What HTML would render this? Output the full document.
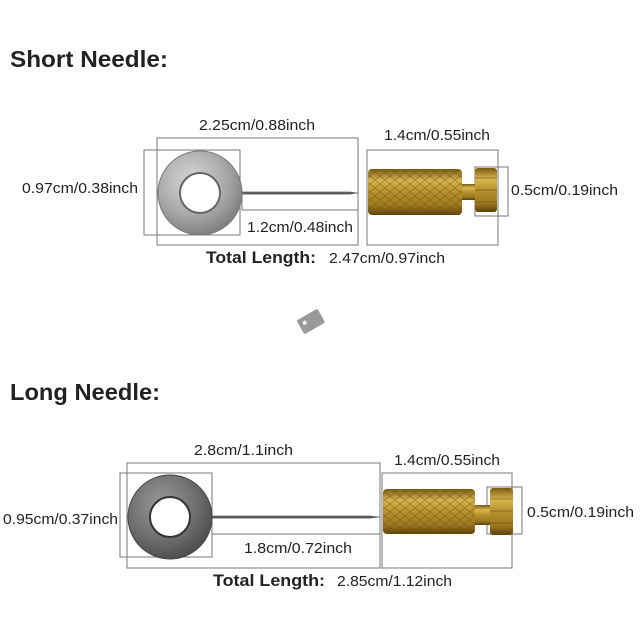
<!DOCTYPE html>
<html><head><meta charset="utf-8"><style>
html,body{margin:0;padding:0;background:#fff;}
svg{display:block;}
text{font-family:"Liberation Sans",sans-serif;fill:#222;}
</style></head><body>
<svg width="640" height="640" viewBox="0 0 640 640" xmlns="http://www.w3.org/2000/svg">
<defs>
<radialGradient id="silver" cx="40%" cy="35%" r="70%"><stop offset="0" stop-color="#d8d8d8"/><stop offset="0.6" stop-color="#a8a8a8"/><stop offset="1" stop-color="#7a7a7a"/></radialGradient>
<radialGradient id="dark" cx="40%" cy="35%" r="70%"><stop offset="0" stop-color="#9a9a9a"/><stop offset="0.6" stop-color="#6e6e6e"/><stop offset="1" stop-color="#4a4a4a"/></radialGradient>
<linearGradient id="brass" x1="0" y1="0" x2="0" y2="1"><stop offset="0" stop-color="#7a5a10"/><stop offset="0.25" stop-color="#d8b850"/><stop offset="0.5" stop-color="#b8922e"/><stop offset="0.8" stop-color="#9c7820"/><stop offset="1" stop-color="#5e4208"/></linearGradient>
<pattern id="knurl" width="10" height="8" patternUnits="userSpaceOnUse"><path d="M0 0L10 8M10 0L0 8" stroke="#6b4e0c" stroke-width="0.8" opacity="0.55"/></pattern>
<linearGradient id="needle" x1="0" y1="0" x2="0" y2="1"><stop offset="0" stop-color="#999"/><stop offset="0.5" stop-color="#444"/><stop offset="1" stop-color="#777"/></linearGradient>
</defs>
<g fill="none" stroke="#777" stroke-width="1">
<rect x="157" y="138" width="201" height="107"/>
<rect x="367" y="150" width="131" height="95"/>
<rect x="144" y="150" width="96" height="85"/>
<rect x="242" y="193" width="116" height="17"/>
<rect x="475" y="167" width="33" height="49"/>
<rect x="127" y="463" width="253" height="105"/>
<rect x="382" y="473" width="130" height="95"/>
<rect x="120" y="473" width="92" height="84"/>
<rect x="212" y="517" width="168" height="17"/>
<rect x="487" y="487" width="35" height="47"/>
</g>
<polygon points="240,191.5 350,191.5 358,193 350,194.5 240,194.5" fill="url(#needle)"/>
<circle cx="200" cy="193" r="42" fill="url(#silver)" stroke="#777" stroke-width="1"/>
<circle cx="200" cy="193" r="20" fill="#fff" stroke="#666" stroke-width="2"/>
<rect x="462" y="184" width="14" height="16" fill="url(#brass)"/>
<rect x="368" y="169" width="94" height="46" rx="4" fill="url(#brass)"/>
<rect x="368" y="169" width="94" height="46" rx="4" fill="url(#knurl)"/>
<rect x="475" y="168" width="22" height="44" rx="3" fill="url(#brass)"/>
<g stroke="#6b4e0c" stroke-width="1" opacity="0.6"><line x1="475" y1="178" x2="497" y2="178"/><line x1="475" y1="190" x2="497" y2="190"/><line x1="475" y1="202" x2="497" y2="202"/></g>
<polygon points="210,515.5 370,515.5 380,517 370,518.5 210,518.5" fill="url(#needle)"/>
<circle cx="170" cy="517" r="42" fill="url(#dark)" stroke="#444" stroke-width="1"/>
<circle cx="170" cy="517" r="20" fill="#fff" stroke="#333" stroke-width="2"/>
<rect x="475" y="505" width="15" height="20" fill="url(#brass)"/>
<rect x="383" y="489" width="92" height="45" rx="4" fill="url(#brass)"/>
<rect x="383" y="489" width="92" height="45" rx="4" fill="url(#knurl)"/>
<rect x="490" y="488" width="23" height="47" rx="3" fill="url(#brass)"/>
<g stroke="#6b4e0c" stroke-width="1" opacity="0.6"><line x1="490" y1="499" x2="513" y2="499"/><line x1="490" y1="511" x2="513" y2="511"/><line x1="490" y1="523" x2="513" y2="523"/></g>
<g transform="translate(310,322) rotate(-30)"><rect x="-11" y="-8" width="24" height="16" rx="2" fill="#999"/><circle cx="-5" cy="-2" r="2" fill="#fff"/></g>
<text x="10" y="67" font-size="23" font-weight="bold" textLength="158" lengthAdjust="spacingAndGlyphs">Short Needle:</text>
<text x="199" y="130" font-size="15" textLength="116" lengthAdjust="spacingAndGlyphs">2.25cm/0.88inch</text>
<text x="384" y="140" font-size="15" textLength="106" lengthAdjust="spacingAndGlyphs">1.4cm/0.55inch</text>
<text x="22" y="193" font-size="15" textLength="116" lengthAdjust="spacingAndGlyphs">0.97cm/0.38inch</text>
<text x="511" y="195" font-size="15" textLength="107" lengthAdjust="spacingAndGlyphs">0.5cm/0.19inch</text>
<text x="247" y="232" font-size="15" textLength="106" lengthAdjust="spacingAndGlyphs">1.2cm/0.48inch</text>
<text x="206" y="263" font-size="17" font-weight="bold" textLength="110" lengthAdjust="spacingAndGlyphs">Total Length:</text>
<text x="329" y="263" font-size="15" textLength="116" lengthAdjust="spacingAndGlyphs">2.47cm/0.97inch</text>
<text x="10" y="400" font-size="23" font-weight="bold" textLength="150" lengthAdjust="spacingAndGlyphs">Long Needle:</text>
<text x="194" y="455" font-size="15" textLength="99" lengthAdjust="spacingAndGlyphs">2.8cm/1.1inch</text>
<text x="394" y="465" font-size="15" textLength="106" lengthAdjust="spacingAndGlyphs">1.4cm/0.55inch</text>
<text x="3" y="524" font-size="15" textLength="115" lengthAdjust="spacingAndGlyphs">0.95cm/0.37inch</text>
<text x="527" y="517" font-size="15" textLength="107" lengthAdjust="spacingAndGlyphs">0.5cm/0.19inch</text>
<text x="244" y="553" font-size="15" textLength="108" lengthAdjust="spacingAndGlyphs">1.8cm/0.72inch</text>
<text x="213" y="586" font-size="17" font-weight="bold" textLength="112" lengthAdjust="spacingAndGlyphs">Total Length:</text>
<text x="337" y="586" font-size="15" textLength="115" lengthAdjust="spacingAndGlyphs">2.85cm/1.12inch</text>
</svg>
</body></html>
